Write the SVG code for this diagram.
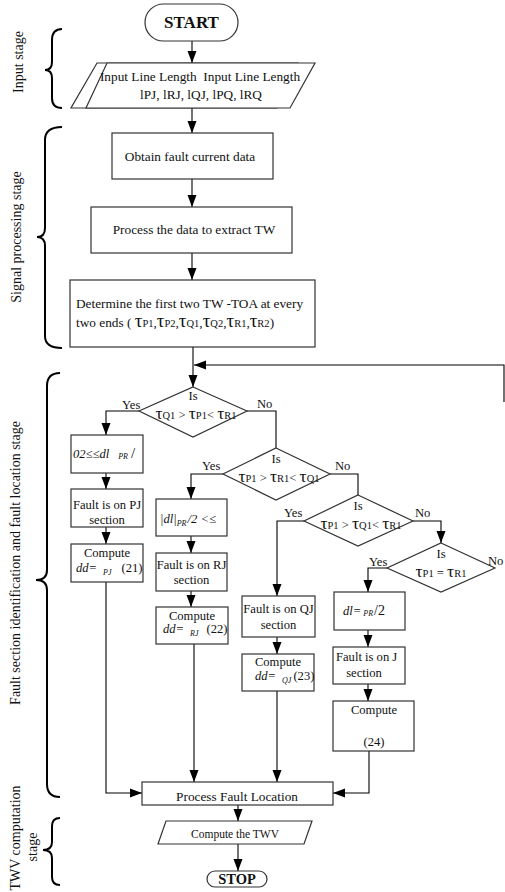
<svg xmlns="http://www.w3.org/2000/svg" width="505" height="892" viewBox="0 0 505 892">
<style>
text{font-family:"Liberation Serif","Times New Roman",serif;fill:#111;}
.box{fill:#fff;stroke:#333;stroke-width:1.2;}
.t{font-size:13.3px;}
.s{font-size:12.6px;}
.lab{font-size:12.6px;}
.st{font-size:14px;}
.tau{font-size:19px;}
.dt{font-size:17.5px;}
.sub{font-size:10.5px;}
.it{font-style:italic;}
.sm{font-size:8px;font-style:italic;}
.ln{fill:none;stroke:#000;stroke-width:1.1;}
.br{fill:none;stroke:#000;stroke-width:2;}
</style>
<defs>
<marker id="ah" markerWidth="12" markerHeight="10" refX="12" refY="5" orient="auto" markerUnits="userSpaceOnUse"><path d="M0,0.5 L12,5 L0,9.5 z" fill="#000"/></marker>
</defs>

<g id="braces">
<path class="br" d="M62,29 Q52,29 52,40 V62 Q52,70 45,70 Q52,70 52,78 V98 Q52,108 62,108"/>
<text class="st" transform="translate(23,62) rotate(-90)" text-anchor="middle">Input stage</text>
<path class="br" d="M62,127 Q45,127 45,140 V228 Q45,237 37,237 Q45,237 45,246 V336 Q45,348 62,348"/>
<text class="st" transform="translate(21,237) rotate(-90)" text-anchor="middle">Signal processing stage</text>
<path class="br" d="M60,373 Q47,373 47,386 V570 Q47,580 36,580 Q47,580 47,590 V784 Q47,797 60,797"/>
<text class="st" transform="translate(20,563) rotate(-90)" text-anchor="middle">Fault section identification and fault location stage</text>
<path class="br" d="M60,818 Q52,818 52,826 V842 Q52,850 43,850 Q52,850 52,858 V877 Q52,885 60,885"/>
<text class="st" transform="translate(20,838) rotate(-90)" text-anchor="middle">TWV computation</text>
<text class="st" transform="translate(37,847) rotate(-90)" text-anchor="middle">stage</text>
</g>

<g id="connectors">
<path class="ln" d="M192,41 V63" marker-end="url(#ah)"/>
<path class="ln" d="M192,108 V133" marker-end="url(#ah)"/>
<path class="ln" d="M192,179 V207" marker-end="url(#ah)"/>
<path class="ln" d="M192,253 V280" marker-end="url(#ah)"/>
<path class="ln" d="M193,347 V387" marker-end="url(#ah)"/>
<path class="ln" d="M504,402 V365 H194" marker-end="url(#ah)"/>
<path class="ln" d="M139,411 H106 V435" marker-end="url(#ah)"/>
<path class="ln" d="M247,411 H276 V448"/>
<path class="ln" d="M106,473 V489" marker-end="url(#ah)"/>
<path class="ln" d="M106,527 V544" marker-end="url(#ah)"/>
<path class="ln" d="M106,582 V793 H142" marker-end="url(#ah)"/>
<path class="ln" d="M223,474 H191 V499" marker-end="url(#ah)"/>
<path class="ln" d="M330,474 H358 V495"/>
<path class="ln" d="M191,536 V553" marker-end="url(#ah)"/>
<path class="ln" d="M191,591 V607" marker-end="url(#ah)"/>
<path class="ln" d="M194,644 V782" marker-end="url(#ah)"/>
<path class="ln" d="M304,521 H277 V596" marker-end="url(#ah)"/>
<path class="ln" d="M413,521 H441 V543" marker-end="url(#ah)"/>
<path class="ln" d="M277,637 V654" marker-end="url(#ah)"/>
<path class="ln" d="M277,691 V782" marker-end="url(#ah)"/>
<path class="ln" d="M387,568 H368 V592" marker-end="url(#ah)"/>
<path class="ln" d="M368,630 V647" marker-end="url(#ah)"/>
<path class="ln" d="M368,684 V701" marker-end="url(#ah)"/>
<path class="ln" d="M369,751 V793 H333" marker-end="url(#ah)"/>
<path class="ln" d="M238,805 V821" marker-end="url(#ah)"/>
<path class="ln" d="M238,844 V871" marker-end="url(#ah)"/>
</g>

<g id="start">
<rect class="box" x="145" y="4" width="93" height="37" rx="18.5"/>
<text x="191.5" y="28" text-anchor="middle" font-size="17" font-weight="bold">START</text>
</g>

<g id="input">
<polygon class="box" points="97,63 298,63 277,108 71,108"/>
<polygon class="box" points="107,63 315,63 290,108 86,108" fill="none"/>
<text class="t" text-anchor="middle" xml:space="preserve"><tspan x="200" y="81">Input Line Length  Input Line Length</tspan><tspan x="201" y="99">lPJ, lRJ, lQJ, lPQ, lRQ</tspan></text>
</g>

<g id="obtain">
<rect class="box" x="112" y="133" width="161" height="46"/>
<text class="t" x="190" y="161" text-anchor="middle">Obtain fault current data</text>
</g>

<g id="process">
<rect class="box" x="91" y="207" width="201" height="46"/>
<text class="t" x="194" y="234" text-anchor="middle">Process the data to extract TW</text>
</g>

<g id="determine">
<rect class="box" x="70" y="280" width="245" height="67"/>
<text class="t"><tspan x="76" y="308">Determine the first two TW -TOA at every</tspan><tspan x="76" y="327">two ends ( <tspan class="tau">τ</tspan><tspan class="sub">P1</tspan>,<tspan class="tau">τ</tspan><tspan class="sub">P2</tspan>,<tspan class="tau">τ</tspan><tspan class="sub">Q1</tspan>,<tspan class="tau">τ</tspan><tspan class="sub">Q2</tspan>,<tspan class="tau">τ</tspan><tspan class="sub">R1</tspan>,<tspan class="tau">τ</tspan><tspan class="sub">R2</tspan>)</tspan></text>
</g>

<g id="d1">
<polygon class="box" points="193,387 247,411 193,437 139,411"/>
<text class="s" x="193" y="400" text-anchor="middle">Is</text>
<text class="s" x="196" y="419" text-anchor="middle"><tspan class="dt">τ</tspan><tspan class="sub">Q1</tspan> &gt; <tspan class="dt">τ</tspan><tspan class="sub">P1</tspan>&lt; <tspan class="dt">τ</tspan><tspan class="sub">R1</tspan></text>
<text class="lab" x="122" y="409">Yes</text>
<text class="lab" x="257" y="408">No</text>
</g>

<g id="d2">
<polygon class="box" points="276,448 330,474 276,500 223,474"/>
<text class="s" x="276" y="463" text-anchor="middle">Is</text>
<text class="s" x="279" y="482" text-anchor="middle"><tspan class="dt">τ</tspan><tspan class="sub">P1</tspan> &gt; <tspan class="dt">τ</tspan><tspan class="sub">R1</tspan>&lt; <tspan class="dt">τ</tspan><tspan class="sub">Q1</tspan></text>
<text class="lab" x="202" y="470">Yes</text>
<text class="lab" x="335" y="470">No</text>
</g>

<g id="d3">
<polygon class="box" points="358,495 413,521 358,546 304,521"/>
<text class="s" x="358" y="510" text-anchor="middle">Is</text>
<text class="s" x="361" y="529" text-anchor="middle"><tspan class="dt">τ</tspan><tspan class="sub">P1</tspan> &gt; <tspan class="dt">τ</tspan><tspan class="sub">Q1</tspan>&lt; <tspan class="dt">τ</tspan><tspan class="sub">R1</tspan></text>
<text class="lab" x="284" y="517">Yes</text>
<text class="lab" x="415" y="517">No</text>
</g>

<g id="d4">
<polygon class="box" points="441,543 495,568 441,592 387,568"/>
<text class="s" x="441" y="558" text-anchor="middle">Is</text>
<text class="s" x="441" y="577" text-anchor="middle"><tspan class="dt">τ</tspan><tspan class="sub">P1</tspan> = <tspan class="dt">τ</tspan><tspan class="sub">R1</tspan></text>
<text class="lab" x="369" y="566">Yes</text>
<text class="lab" x="488" y="565">No</text>
</g>

<g id="pj1">
<rect class="box" x="71" y="435" width="72" height="38"/>
<text class="s" x="73" y="458"><tspan class="it">02≤≤dl</tspan><tspan class="sm" dx="9" dy="1">PR</tspan><tspan dx="3" dy="-1" font-size="15">/</tspan></text>
</g>

<g id="pj2">
<rect class="box" x="71" y="489" width="72" height="38"/>
<text class="s" text-anchor="middle"><tspan x="107" y="509">Fault is on PJ</tspan><tspan x="107" y="524">section</tspan></text>
</g>

<g id="pj3">
<rect class="box" x="71" y="544" width="72" height="38"/>
<text class="s"><tspan x="107" y="557" text-anchor="middle">Compute</tspan><tspan x="76" y="572" class="it">dd=</tspan><tspan class="sm" dx="6" dy="3">PJ</tspan><tspan dx="10" dy="-3">(21)</tspan></text>
</g>

<g id="rj1">
<rect class="box" x="156" y="499" width="71" height="37"/>
<text class="s" x="160" y="523"><tspan class="it">|dl|</tspan><tspan class="sm" dy="3">PR</tspan><tspan class="it" dx="1" dy="-3">/2 &lt;≤</tspan></text>
</g>

<g id="rj2">
<rect class="box" x="156" y="553" width="71" height="38"/>
<text class="s" text-anchor="middle"><tspan x="191.5" y="569">Fault is on RJ</tspan><tspan x="191.5" y="584">section</tspan></text>
</g>

<g id="rj3">
<rect class="box" x="156" y="607" width="72" height="37"/>
<text class="s"><tspan x="192" y="620" text-anchor="middle">Compute</tspan><tspan x="163" y="633" class="it">dd=</tspan><tspan class="sm" dx="6" dy="3">RJ</tspan><tspan dx="8" dy="-3">(22)</tspan></text>
</g>

<g id="qj1">
<rect class="box" x="242" y="596" width="73" height="41"/>
<text class="s" text-anchor="middle"><tspan x="278.5" y="613">Fault is on QJ</tspan><tspan x="278.5" y="629">section</tspan></text>
</g>

<g id="qj2">
<rect class="box" x="242" y="654" width="72" height="37"/>
<text class="s"><tspan x="278" y="666" text-anchor="middle">Compute</tspan><tspan x="255" y="680" class="it">dd=</tspan><tspan class="sm" dx="6" dy="3">QJ</tspan><tspan dx="2" dy="-3">(23)</tspan></text>
</g>

<g id="j1">
<rect class="box" x="334" y="592" width="71" height="38"/>
<text class="s" x="343" y="615"><tspan class="it">dl=</tspan><tspan class="sm" dx="2" dy="1">PR</tspan><tspan dx="1" dy="-1" font-size="14">/2</tspan></text>
</g>

<g id="j2">
<rect class="box" x="333" y="647" width="72" height="37"/>
<text class="s"><tspan x="336" y="661">Fault is on J</tspan><tspan x="364" y="677" text-anchor="middle">section</tspan></text>
</g>

<g id="j3">
<rect class="box" x="333" y="701" width="81" height="50"/>
<text class="s" text-anchor="middle"><tspan x="374" y="714">Compute</tspan><tspan x="374" y="746">(24)</tspan></text>
</g>

<g id="processfl">
<rect class="box" x="142" y="782" width="191" height="23"/>
<text class="t" x="237" y="801" text-anchor="middle">Process Fault Location</text>
</g>

<g id="twv">
<polygon class="box" points="166,821 312,821 304,844 158,844"/>
<text x="235" y="838" text-anchor="middle" font-size="11.5">Compute the TWV</text>
</g>

<g id="stop">
<rect class="box" x="207" y="871" width="60" height="16" rx="8"/>
<text x="237" y="884" text-anchor="middle" font-size="14.5" font-weight="bold">STOP</text>
</g>
</svg>
